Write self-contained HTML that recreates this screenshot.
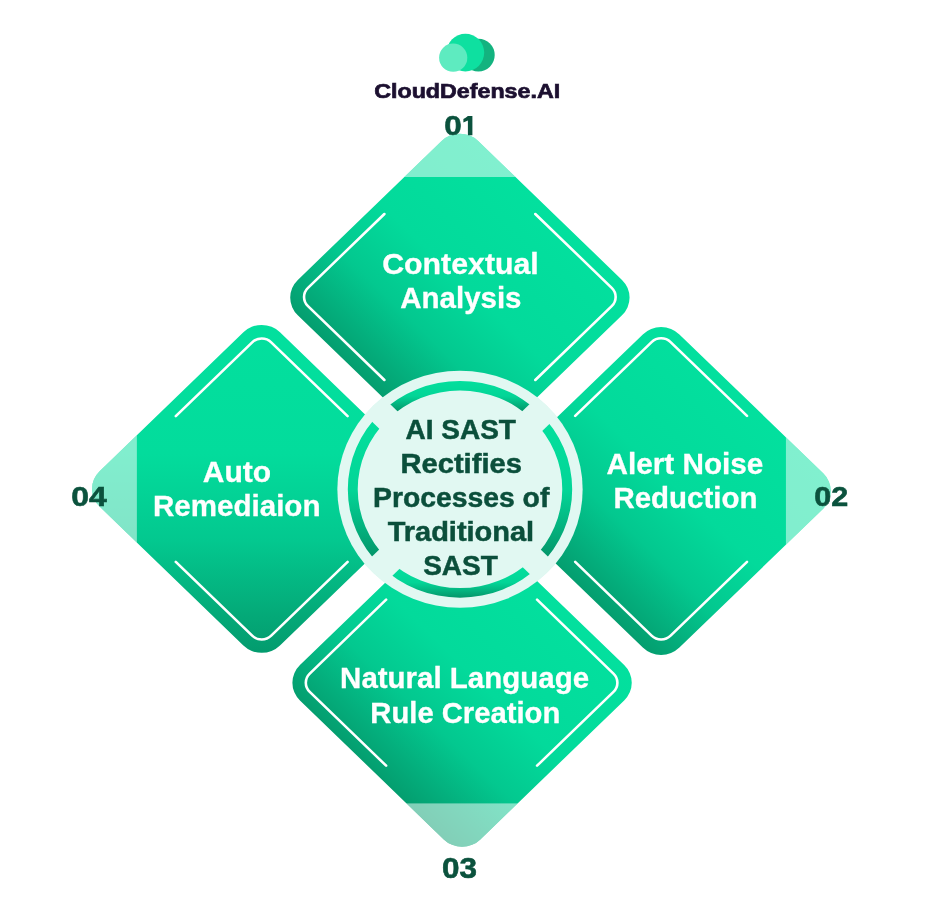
<!DOCTYPE html>
<html><head><meta charset="utf-8"><style>
html,body{margin:0;padding:0;background:#fff;}
svg{display:block;}
text{font-family:"Liberation Sans",sans-serif;font-weight:bold;}
svg{will-change:transform;}
</style></head><body>
<svg width="933" height="900" viewBox="0 0 933 900">
<defs>
<linearGradient id="g_top" gradientUnits="userSpaceOnUse" x1="372.8" y1="384.8" x2="547.0" y2="210.5"><stop offset="0" stop-color="#049E6F"/><stop offset="0.12" stop-color="#04AE7C"/><stop offset="0.3" stop-color="#03C88F"/><stop offset="0.55" stop-color="#03DA9B"/><stop offset="1" stop-color="#03E09E"/></linearGradient>
<clipPath id="c_top"><path d="M477.58 140.98 L616.52 279.92 A25.0 25.0 0 0 1 616.52 315.28 L477.58 454.22 A25.0 25.0 0 0 1 442.22 454.22 L303.28 315.28 A25.0 25.0 0 0 1 303.28 279.92 L442.22 140.98 A25.0 25.0 0 0 1 477.58 140.98 Z"/></clipPath>
<linearGradient id="g_right" gradientUnits="userSpaceOnUse" x1="567.1" y1="578.1" x2="741.4" y2="403.9"><stop offset="0" stop-color="#049E6F"/><stop offset="0.12" stop-color="#04AE7C"/><stop offset="0.3" stop-color="#03C88F"/><stop offset="0.55" stop-color="#03DA9B"/><stop offset="1" stop-color="#03E09E"/></linearGradient>
<clipPath id="c_right"><path d="M671.98 334.38 L810.92 473.32 A25.0 25.0 0 0 1 810.92 508.68 L671.98 647.62 A25.0 25.0 0 0 1 636.62 647.62 L497.68 508.68 A25.0 25.0 0 0 1 497.68 473.32 L636.62 334.38 A25.0 25.0 0 0 1 671.98 334.38 Z"/></clipPath>
<linearGradient id="g_bottom" gradientUnits="userSpaceOnUse" x1="374.9" y1="769.9" x2="549.1" y2="595.6"><stop offset="0" stop-color="#049E6F"/><stop offset="0.12" stop-color="#04AE7C"/><stop offset="0.3" stop-color="#03C88F"/><stop offset="0.55" stop-color="#03DA9B"/><stop offset="1" stop-color="#03E09E"/></linearGradient>
<clipPath id="c_bottom"><path d="M479.68 526.18 L618.62 665.12 A25.0 25.0 0 0 1 618.62 700.48 L479.68 839.42 A25.0 25.0 0 0 1 444.32 839.42 L305.38 700.48 A25.0 25.0 0 0 1 305.38 665.12 L444.32 526.18 A25.0 25.0 0 0 1 479.68 526.18 Z"/></clipPath>
<linearGradient id="g_left" gradientUnits="userSpaceOnUse" x1="268.4" y1="663.2" x2="268.4" y2="314.6"><stop offset="0" stop-color="#03976B"/><stop offset="0.15" stop-color="#04AB79"/><stop offset="0.35" stop-color="#03C88F"/><stop offset="0.6" stop-color="#03DC9C"/><stop offset="1" stop-color="#03E09E"/></linearGradient>
<clipPath id="c_left"><path d="M286.08 332.28 L425.02 471.22 A25.0 25.0 0 0 1 425.02 506.58 L286.08 645.52 A25.0 25.0 0 0 1 250.72 645.52 L111.78 506.58 A25.0 25.0 0 0 1 111.78 471.22 L250.72 332.28 A25.0 25.0 0 0 1 286.08 332.28 Z"/></clipPath>
<clipPath id="a_top"><polygon points="459.90,471.60 259.90,271.60 659.90,271.60"/></clipPath>
<clipPath id="a_right"><polygon points="479.40,491.10 679.40,291.10 679.40,691.10"/></clipPath>
<clipPath id="a_bottom"><polygon points="461.90,508.60 661.90,708.60 261.90,708.60"/></clipPath>
<clipPath id="a_left"><polygon points="442.40,489.10 242.40,289.10 242.40,689.10"/></clipPath>
<linearGradient id="ga_top" gradientUnits="userSpaceOnUse" x1="0" y1="380.9" x2="0" y2="411.1"><stop offset="0" stop-color="#03DF9D"/><stop offset="0.5" stop-color="#03D597"/><stop offset="1" stop-color="#04966A"/></linearGradient>
<linearGradient id="ga_right" gradientUnits="userSpaceOnUse" x1="0" y1="424.1" x2="0" y2="556.6"><stop offset="0" stop-color="#03DF9D"/><stop offset="0.5" stop-color="#03D597"/><stop offset="1" stop-color="#04966A"/></linearGradient>
<linearGradient id="ga_bottom" gradientUnits="userSpaceOnUse" x1="0" y1="567.4" x2="0" y2="597.7"><stop offset="0" stop-color="#03DF9D"/><stop offset="0.5" stop-color="#03D597"/><stop offset="1" stop-color="#04966A"/></linearGradient>
<linearGradient id="ga_left" gradientUnits="userSpaceOnUse" x1="0" y1="422.0" x2="0" y2="556.5"><stop offset="0" stop-color="#03DF9D"/><stop offset="0.5" stop-color="#03D597"/><stop offset="1" stop-color="#04966A"/></linearGradient>
</defs>
<g transform="translate(460.0 0) scale(1.035 1) translate(-460.0 0)">
<circle cx="460.0" cy="489.3" r="118.5" fill="#E1F8F2"/>
<path d="M477.58 140.98 L616.52 279.92 A25.0 25.0 0 0 1 616.52 315.28 L477.58 454.22 A25.0 25.0 0 0 1 442.22 454.22 L303.28 315.28 A25.0 25.0 0 0 1 303.28 279.92 L442.22 140.98 A25.0 25.0 0 0 1 477.58 140.98 Z" fill="url(#g_top)"/>
<g clip-path="url(#c_top)" fill="#FFFFFF" fill-opacity="0.5"><rect x="285.59999999999997" y="118.30000000000001" width="348.6" height="58.7"/></g>
<path d="M386.93 214.00 L313.13 287.81 A13.0 13.0 0 0 0 313.13 306.19 L386.93 380.00 M532.77 214.00 L606.57 287.81 A13.0 13.0 0 0 1 606.57 306.19 L532.77 380.00" fill="none" stroke="#FFFFFF" stroke-width="2.5" stroke-linecap="round"/>
<path d="M671.98 334.38 L810.92 473.32 A25.0 25.0 0 0 1 810.92 508.68 L671.98 647.62 A25.0 25.0 0 0 1 636.62 647.62 L497.68 508.68 A25.0 25.0 0 0 1 497.68 473.32 L636.62 334.38 A25.0 25.0 0 0 1 671.98 334.38 Z" fill="url(#g_right)"/>
<g clip-path="url(#c_right)" fill="#FFFFFF" fill-opacity="0.5"><rect x="774.8999999999999" y="316.7" width="58.7" height="348.6"/></g>
<path d="M571.30 415.98 L645.11 342.18 A13.0 13.0 0 0 1 663.49 342.18 L737.30 415.98 M571.30 561.82 L645.11 635.62 A13.0 13.0 0 0 0 663.49 635.62 L737.30 561.82" fill="none" stroke="#FFFFFF" stroke-width="2.5" stroke-linecap="round"/>
<path d="M479.68 526.18 L618.62 665.12 A25.0 25.0 0 0 1 618.62 700.48 L479.68 839.42 A25.0 25.0 0 0 1 444.32 839.42 L305.38 700.48 A25.0 25.0 0 0 1 305.38 665.12 L444.32 526.18 A25.0 25.0 0 0 1 479.68 526.18 Z" fill="url(#g_bottom)"/>
<g clip-path="url(#c_bottom)" fill="#FFFFFF" fill-opacity="0.5"><rect x="287.7" y="803.3999999999999" width="348.6" height="58.7"/></g>
<path d="M388.63 599.70 L314.83 673.51 A13.0 13.0 0 0 0 314.83 691.89 L388.63 765.70 M534.47 599.70 L608.27 673.51 A13.0 13.0 0 0 1 608.27 691.89 L534.47 765.70" fill="none" stroke="#FFFFFF" stroke-width="2.5" stroke-linecap="round"/>
<path d="M286.08 332.28 L425.02 471.22 A25.0 25.0 0 0 1 425.02 506.58 L286.08 645.52 A25.0 25.0 0 0 1 250.72 645.52 L111.78 506.58 A25.0 25.0 0 0 1 111.78 471.22 L250.72 332.28 A25.0 25.0 0 0 1 286.08 332.28 Z" fill="url(#g_left)"/>
<g clip-path="url(#c_left)" fill="#FFFFFF" fill-opacity="0.5"><rect x="89.09999999999997" y="314.59999999999997" width="58.7" height="348.6"/></g>
<path d="M185.40 416.08 L259.21 342.28 A13.0 13.0 0 0 1 277.59 342.28 L351.40 416.08 M185.40 561.92 L259.21 635.72 A13.0 13.0 0 0 0 277.59 635.72 L351.40 561.92" fill="none" stroke="#FFFFFF" stroke-width="2.5" stroke-linecap="round"/>
<circle cx="460.0" cy="489.3" r="118.5" fill="#E1F8F2"/>
<g clip-path="url(#a_top)"><path fill-rule="evenodd" d="M351.6 489.3 A108.4 108.4 0 1 1 568.4 489.3 A108.4 108.4 0 1 1 351.6 489.3 Z M361.2 489.3 A98.8 98.8 0 1 0 558.8 489.3 A98.8 98.8 0 1 0 361.2 489.3 Z" fill="url(#ga_top)"/></g>
<g clip-path="url(#a_right)"><path fill-rule="evenodd" d="M351.6 489.3 A108.4 108.4 0 1 1 568.4 489.3 A108.4 108.4 0 1 1 351.6 489.3 Z M361.2 489.3 A98.8 98.8 0 1 0 558.8 489.3 A98.8 98.8 0 1 0 361.2 489.3 Z" fill="url(#ga_right)"/></g>
<g clip-path="url(#a_bottom)"><path fill-rule="evenodd" d="M351.6 489.3 A108.4 108.4 0 1 1 568.4 489.3 A108.4 108.4 0 1 1 351.6 489.3 Z M361.2 489.3 A98.8 98.8 0 1 0 558.8 489.3 A98.8 98.8 0 1 0 361.2 489.3 Z" fill="url(#ga_bottom)"/></g>
<g clip-path="url(#a_left)"><path fill-rule="evenodd" d="M351.6 489.3 A108.4 108.4 0 1 1 568.4 489.3 A108.4 108.4 0 1 1 351.6 489.3 Z M361.2 489.3 A98.8 98.8 0 1 0 558.8 489.3 A98.8 98.8 0 1 0 361.2 489.3 Z" fill="url(#ga_left)"/></g>
</g>
<circle cx="478.4" cy="55.1" r="16.3" fill="#13B37F"/>
<circle cx="465.4" cy="52.6" r="18.8" fill="#0EE0A0"/>
<circle cx="453.2" cy="57.7" r="14.1" fill="#5EEBC0"/>
<text x="460.5" y="273.8" font-size="30" fill="#FFFFFF" stroke="#FFFFFF" stroke-width="0.3" text-anchor="middle" textLength="156.5" lengthAdjust="spacingAndGlyphs">Contextual</text><text x="460.9" y="307.9" font-size="30" fill="#FFFFFF" stroke="#FFFFFF" stroke-width="0.3" text-anchor="middle" textLength="121.2" lengthAdjust="spacingAndGlyphs">Analysis</text><text x="685" y="474.2" font-size="30" fill="#FFFFFF" stroke="#FFFFFF" stroke-width="0.3" text-anchor="middle" textLength="156.8" lengthAdjust="spacingAndGlyphs">Alert Noise</text><text x="685.4" y="508.4" font-size="30" fill="#FFFFFF" stroke="#FFFFFF" stroke-width="0.3" text-anchor="middle" textLength="144" lengthAdjust="spacingAndGlyphs">Reduction</text><text x="236.9" y="481.7" font-size="30" fill="#FFFFFF" stroke="#FFFFFF" stroke-width="0.3" text-anchor="middle">Auto</text><text x="236.7" y="516" font-size="30" fill="#FFFFFF" stroke="#FFFFFF" stroke-width="0.3" text-anchor="middle" textLength="167.6" lengthAdjust="spacingAndGlyphs">Remediaion</text><text x="464.6" y="687.9" font-size="30" fill="#FFFFFF" stroke="#FFFFFF" stroke-width="0.3" text-anchor="middle" textLength="249" lengthAdjust="spacingAndGlyphs">Natural Language</text><text x="465.3" y="722.7" font-size="30" fill="#FFFFFF" stroke="#FFFFFF" stroke-width="0.3" text-anchor="middle" textLength="190" lengthAdjust="spacingAndGlyphs">Rule Creation</text><text x="460.7" y="439.1" font-size="28" fill="#0B4F3B" stroke="#0B4F3B" stroke-width="0.5" text-anchor="middle">AI SAST</text><text x="461.2" y="472.7" font-size="28" fill="#0B4F3B" stroke="#0B4F3B" stroke-width="0.5" text-anchor="middle" textLength="121.5" lengthAdjust="spacingAndGlyphs">Rectifies</text><text x="461.2" y="506.7" font-size="28" fill="#0B4F3B" stroke="#0B4F3B" stroke-width="0.5" text-anchor="middle" textLength="176.3" lengthAdjust="spacingAndGlyphs">Processes of</text><text x="460.9" y="540.9" font-size="28" fill="#0B4F3B" stroke="#0B4F3B" stroke-width="0.5" text-anchor="middle" textLength="146.5" lengthAdjust="spacingAndGlyphs">Traditional</text><text x="460.5" y="574.9" font-size="28" fill="#0B4F3B" stroke="#0B4F3B" stroke-width="0.5" text-anchor="middle">SAST</text><text x="452.9" y="135.3" font-size="28.5" fill="#0B523D" stroke="#0B523D" stroke-width="0.6" text-anchor="middle" textLength="17.5" lengthAdjust="spacingAndGlyphs">0</text><path d="M463.4 119.0 Q465.6 117.6 467.9 115.9 L472.4 115.9 L472.4 135.2 L467.9 135.2 L467.9 120.4 L463.4 122.4 Z" fill="#0B523D"/><text x="831.3" y="506.3" font-size="28" fill="#0B523D" stroke="#0B523D" stroke-width="0.6" text-anchor="middle" textLength="34" lengthAdjust="spacingAndGlyphs">02</text><text x="459.6" y="877.8" font-size="29" fill="#0B523D" stroke="#0B523D" stroke-width="0.6" text-anchor="middle" textLength="35" lengthAdjust="spacingAndGlyphs">03</text><text x="88.9" y="506.1" font-size="28" fill="#0B523D" stroke="#0B523D" stroke-width="0.6" text-anchor="middle" textLength="35.5" lengthAdjust="spacingAndGlyphs">04</text><text x="467.2" y="97.6" font-size="21" fill="#1C1030" stroke="#1C1030" stroke-width="0.7" text-anchor="middle" textLength="186" lengthAdjust="spacingAndGlyphs">CloudDefense.AI</text>
</svg>
</body></html>
